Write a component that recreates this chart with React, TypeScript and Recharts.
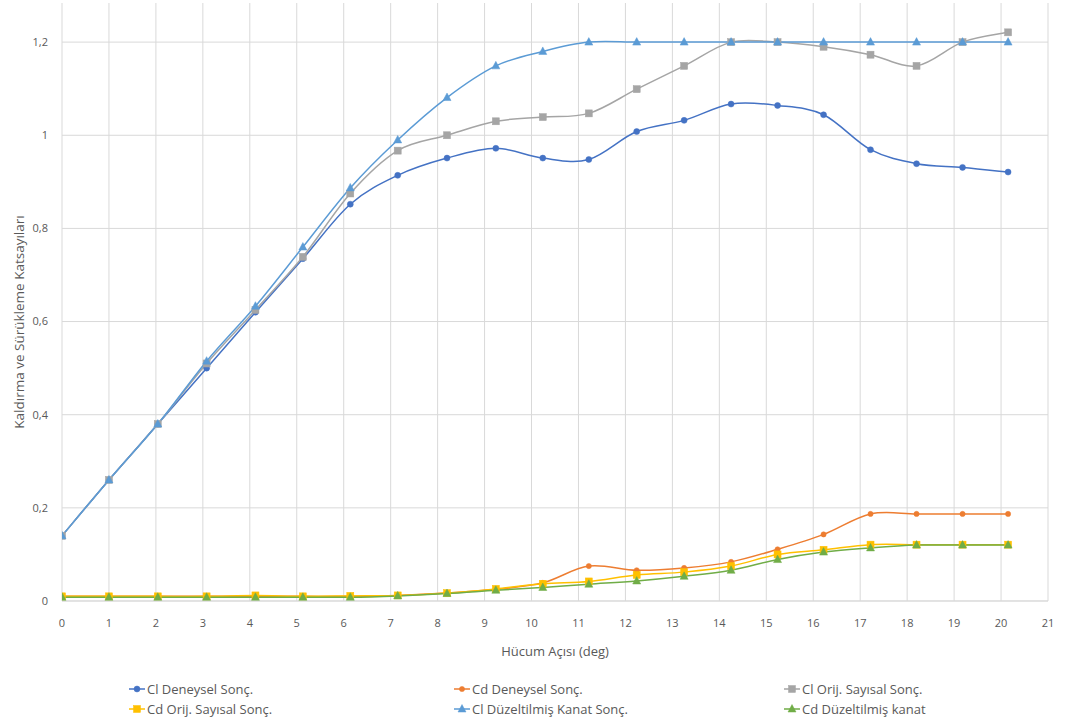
import React from 'react';
import { LineChart, Line, XAxis, YAxis, CartesianGrid } from 'recharts';

const angles = [0, 1, 2.04, 3.08, 4.12, 5.13, 6.14, 7.15, 8.2, 9.24, 10.24, 11.22, 12.24, 13.25, 14.25, 15.24, 16.22, 17.22, 18.2, 19.18, 20.15];
const clDeneysel = [0.14, 0.26, 0.38, 0.5, 0.62, 0.735, 0.852, 0.914, 0.951, 0.972, 0.951, 0.948, 1.008, 1.032, 1.067, 1.064, 1.044, 0.969, 0.939, 0.931, 0.921];
const cdDeneysel = [0.01, 0.01, 0.01, 0.01, 0.01, 0.01, 0.01, 0.012, 0.017, 0.025, 0.039, 0.075, 0.066, 0.071, 0.084, 0.111, 0.143, 0.187, 0.187, 0.187, 0.187];
const clOrij = [0.14, 0.26, 0.38, 0.51, 0.625, 0.739, 0.875, 0.967, 1.0, 1.03, 1.039, 1.047, 1.099, 1.149, 1.2, 1.2, 1.19, 1.173, 1.149, 1.2, 1.221];
const cdOrij = [0.01, 0.01, 0.01, 0.01, 0.012, 0.01, 0.011, 0.012, 0.017, 0.026, 0.037, 0.042, 0.056, 0.062, 0.075, 0.1, 0.11, 0.121, 0.121, 0.121, 0.121];
const clDuz = [0.14, 0.26, 0.38, 0.515, 0.633, 0.76, 0.887, 0.99, 1.081, 1.149, 1.18, 1.2, 1.2, 1.2, 1.2, 1.2, 1.2, 1.2, 1.2, 1.2, 1.2];
const cdDuz = [0.008, 0.008, 0.008, 0.008, 0.008, 0.008, 0.008, 0.011, 0.016, 0.023, 0.029, 0.036, 0.043, 0.053, 0.066, 0.089, 0.105, 0.114, 0.12, 0.12, 0.12];

const xTicks = [0, 1, 2, 3, 4, 5, 6, 7, 8, 9, 10, 11, 12, 13, 14, 15, 16, 17, 18, 19, 20, 21];
const yTicks = [0, 0.2, 0.4, 0.6, 0.8, 1, 1.2];

const seriesNames = [
  'Cl Deneysel Sonç.',
  'Cd Deneysel Sonç.',
  'Cl Orij. Sayısal Sonç.',
  'Cd Orij. Sayısal Sonç.',
  'Cl Düzeltilmiş Kanat Sonç.',
  'Cd Düzeltilmiş kanat',
];
const colors = ['#4472C4', '#ED7D31', '#A5A5A5', '#FFC000', '#5B9BD5', '#70AD47'];
const shapes = ['circle', 'smallcircle', 'square', 'square', 'triangle', 'triangle'];

const data = angles.map((a, i) => ({
  x: a,
  s0: clDeneysel[i],
  s1: cdDeneysel[i],
  s2: clOrij[i],
  s3: cdOrij[i],
  s4: clDuz[i],
  s5: cdDuz[i],
}));

function excelCurve(context: any) {
  let pts: number[][] = [];
  return {
    areaStart() {},
    areaEnd() {},
    lineStart() {
      pts = [];
    },
    point(x: number, y: number) {
      pts.push([+x, +y]);
    },
    lineEnd() {
      const n = pts.length;
      if (!n) return;
      context.moveTo(pts[0][0], pts[0][1]);
      for (let i = 0; i < n - 1; i++) {
        const p0 = pts[Math.max(i - 1, 0)];
        const p1 = pts[i];
        const p2 = pts[i + 1];
        const p3 = pts[Math.min(i + 2, n - 1)];
        context.bezierCurveTo(
          p1[0] + (p2[0] - p0[0]) / 6,
          p1[1] + (p2[1] - p0[1]) / 6,
          p2[0] - (p3[0] - p1[0]) / 6,
          p2[1] - (p3[1] - p1[1]) / 6,
          p2[0],
          p2[1]
        );
      }
    },
  };
}

function Marker({ shape, color, cx, cy }: { shape: string; color: string; cx: number; cy: number }) {
  if (shape === 'square') {
    return <rect x={cx - 3.5} y={cy - 3.5} width={7} height={7} fill={color} stroke={color} strokeWidth={0.5} />;
  }
  if (shape === 'triangle') {
    return (
      <path
        d={`M${cx},${cy - 4.5} L${cx + 4},${cy + 3} L${cx - 4},${cy + 3} Z`}
        fill={color}
        stroke={color}
        strokeWidth={0.5}
      />
    );
  }
  const r = shape === 'smallcircle' ? 2.6 : 3;
  return <circle cx={cx} cy={cy} r={r} fill={color} stroke={color} strokeWidth={0.5} />;
}

const makeDot = (idx: number) => (props: any) => {
  const { cx, cy, index } = props;
  if (cx == null || cy == null) return <g key={`d${idx}-${index}`} />;
  return (
    <g key={`d${idx}-${index}`}>
      <Marker shape={shapes[idx]} color={colors[idx]} cx={cx} cy={cy} />
    </g>
  );
};

const fontFamily = '"Open Sans", "Noto Sans", sans-serif';
const textColor = '#595959';

function LegendIcon({ idx }: { idx: number }) {
  return (
    <svg width={18} height={12} style={{ verticalAlign: 'middle', marginRight: 1 }}>
      <line x1={1} y1={6} x2={17} y2={6} stroke={colors[idx]} strokeWidth={1.5} />
      <Marker shape={shapes[idx]} color={colors[idx]} cx={9} cy={6} />
    </svg>
  );
}

const legendCols = [128, 453, 783];
const legendRows = [687, 707];

export default function App() {
  return (
    <div style={{ position: 'absolute', left: 0, top: 0, width: 1069, height: 724, background: '#fff', fontFamily }}>
      <LineChart width={1069} height={724} data={data} margin={{ top: 3, right: 21, bottom: 93, left: 22 }}>
        <CartesianGrid stroke="#d9d9d9" strokeWidth={1} horizontalValues={yTicks} verticalValues={xTicks} />
        <XAxis
          dataKey="x"
          type="number"
          domain={[0, 21]}
          ticks={xTicks}
          interval={0}
          allowDataOverflow
          height={30}
          axisLine={{ stroke: '#d9d9d9' }}
          tickLine={false}
          tickMargin={12}
          tick={{ fill: textColor, fontSize: 11, fontFamily }}
        />
        <YAxis
          type="number"
          domain={[0, 1.284]}
          ticks={yTicks}
          interval={0}
          allowDataOverflow
          width={40}
          axisLine={false}
          tickLine={false}
          tickMargin={8}
          tickFormatter={(v: number) => String(v).replace('.', ',')}
          tick={{ fill: textColor, fontSize: 11, fontFamily }}
        />
        {seriesNames.map((name, idx) => (
          <Line
            key={name}
            name={name}
            dataKey={`s${idx}`}
            type={excelCurve as any}
            stroke={colors[idx]}
            strokeWidth={1.5}
            dot={makeDot(idx)}
            activeDot={false}
            isAnimationActive={false}
          />
        ))}
        <text x={555} y={656} textAnchor="middle" fill={textColor} fontSize={13} fontFamily={fontFamily}>
          Hücum Açısı (deg)
        </text>
        <text
          x={0}
          y={0}
          transform="translate(24,322) rotate(-90)"
          textAnchor="middle"
          fill={textColor}
          fontSize={13.5}
          fontFamily={fontFamily}
        >
          Kaldırma ve Sürükleme Katsayıları
        </text>
      </LineChart>
      {seriesNames.map((name, idx) => (
        <div
          key={name}
          style={{
            position: 'absolute',
            left: legendCols[idx % 3],
            top: legendRows[Math.floor(idx / 3)] - 9,
            fontSize: 13,
            color: textColor,
            whiteSpace: 'nowrap',
            lineHeight: '18px',
          }}
        >
          <LegendIcon idx={idx} />
          <span style={{ verticalAlign: 'middle' }}>{name}</span>
        </div>
      ))}
    </div>
  );
}
